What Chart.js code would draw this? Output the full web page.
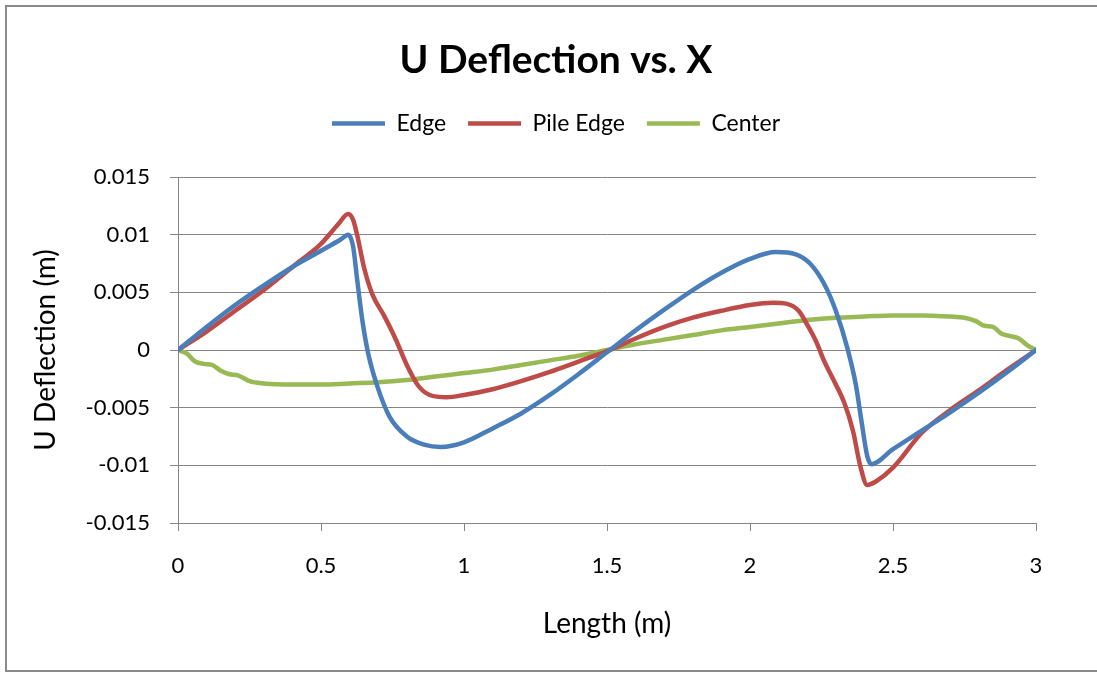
<!DOCTYPE html>
<html>
<head>
<meta charset="utf-8">
<title>U Deflection vs. X</title>
<script src="https://cdn.jsdelivr.net/npm/chart.js@4/dist/chart.umd.min.js"></script>
<style>
    html, body { margin: 0; padding: 0; background: #fff; }
    #wrap { position: absolute; left: 0; top: 0; width: 1097px; height: 673px; }
</style>
</head>
<body>
<div id="wrap"><canvas id="chart"></canvas></div>
<script>
(function () {
    'use strict';

    // Length along the member (m) and U deflection (m) for each line
    var edgeX = [0, 0.1, 0.2, 0.3, 0.4, 0.5, 0.57, 0.595, 0.612, 0.627, 0.645, 0.665, 0.695, 0.74, 0.8, 0.86, 0.92, 1.0, 1.1, 1.2, 1.3, 1.4, 1.5, 1.6, 1.7, 1.8, 1.9, 2.0, 2.09, 2.16, 2.21, 2.26, 2.3, 2.34, 2.37, 2.39, 2.41, 2.425, 2.5, 2.6, 2.7, 2.8, 2.9, 3.0];
    var edgeU = [0, 0.0020, 0.0039, 0.0056, 0.0072, 0.0086, 0.0096, 0.0100, 0.0090, 0.0060, 0.0025, -0.0003, -0.0030, -0.0058, -0.0075, -0.0082, -0.0084, -0.0080, -0.0068, -0.0055, -0.0039, -0.0021, -0.0002, 0.0017, 0.0035, 0.0052, 0.0067, 0.0079, 0.0085, 0.0083, 0.0075, 0.0057, 0.0034, 0.0002, -0.0030, -0.0062, -0.0092, -0.0099, -0.0086, -0.0070, -0.0054, -0.0037, -0.0019, 0];

    var pileX = [0, 0.1, 0.2, 0.3, 0.4, 0.5, 0.56, 0.595, 0.612, 0.628, 0.65, 0.68, 0.72, 0.76, 0.8, 0.84, 0.88, 0.94, 1.0, 1.1, 1.2, 1.3, 1.4, 1.5, 1.6, 1.7, 1.8, 1.9, 2.0, 2.08, 2.13, 2.17, 2.2, 2.23, 2.26, 2.29, 2.33, 2.36, 2.385, 2.41, 2.44, 2.5, 2.6, 2.7, 2.8, 2.9, 3.0];
    var pileU = [0, 0.0016, 0.0034, 0.0052, 0.0072, 0.0092, 0.0109, 0.0118, 0.0113, 0.0098, 0.0072, 0.0048, 0.0030, 0.0010, -0.0013, -0.0031, -0.0039, -0.0041, -0.0039, -0.0034, -0.0027, -0.0019, -0.0010, -0.0001, 0.0010, 0.0020, 0.0028, 0.0034, 0.0039, 0.0041, 0.0040, 0.0034, 0.0022, 0.0008, -0.0010, -0.0025, -0.0046, -0.0070, -0.0100, -0.0117, -0.0114, -0.0102, -0.0072, -0.0052, -0.0035, -0.0017, 0];

    var centerX = [0, 0.03, 0.06, 0.09, 0.12, 0.15, 0.18, 0.21, 0.25, 0.3, 0.4, 0.5, 0.6, 0.7, 0.8, 0.9, 1.0, 1.1, 1.2, 1.3, 1.4, 1.5, 1.6, 1.7, 1.8, 1.9, 2.0, 2.1, 2.2, 2.3, 2.4, 2.5, 2.6, 2.7, 2.75, 2.79, 2.82, 2.85, 2.88, 2.91, 2.94, 2.97, 3.0];
    var centerU = [0, -0.0003, -0.0010, -0.0012, -0.0013, -0.0018, -0.0021, -0.0022, -0.0027, -0.0029, -0.0030, -0.0030, -0.0029, -0.0028, -0.0026, -0.0023, -0.0020, -0.0017, -0.0013, -0.0009, -0.0005, 0, 0.0005, 0.0009, 0.0013, 0.0017, 0.0020, 0.0023, 0.0026, 0.0028, 0.0029, 0.0030, 0.0030, 0.0029, 0.0028, 0.0025, 0.0021, 0.0020, 0.0014, 0.0012, 0.0010, 0.0004, 0];

    var xTicks = [0, 0.5, 1, 1.5, 2, 2.5, 3];
    var xTickLabels = ['0', '0.5', '1', '1.5', '2', '2.5', '3'];
    var yTicks = [-0.015, -0.01, -0.005, 0, 0.005, 0.01, 0.015];
    var yTickLabels = ['-0.015', '-0.01', '-0.005', '0', '0.005', '0.01', '0.015'];

    var FONT = 'Lato, "Open Sans", sans-serif';
    var GRID = '#868686';

    function points(xs, ys) {
        return xs.map(function (x, i) { return { x: x, y: ys[i] }; });
    }

    function series(label, xs, ys, color) {
        return {
            label: label,
            data: points(xs, ys),
            borderColor: color,
            backgroundColor: color,
            borderWidth: 4.5,
            borderCapStyle: 'round',
            borderJoinStyle: 'round',
            pointRadius: 0,
            pointHoverRadius: 0,
            pointStyle: 'line',
            showLine: true,
            cubicInterpolationMode: 'monotone'
        };
    }

    function fixedTicks(values) {
        return function (scale) {
            scale.ticks = values.map(function (v) { return { value: v }; });
        };
    }

    // outer frame of the chart object
    var framePlugin = {
        id: 'frame',
        beforeDraw: function (chart) {
            var ctx = chart.ctx;
            ctx.save();
            ctx.fillStyle = '#fff';
            ctx.fillRect(0, 0, chart.width, chart.height);
            ctx.strokeStyle = '#8a8a8a';
            ctx.lineWidth = 2;
            ctx.beginPath();
            ctx.moveTo(chart.width + 2, 6);
            ctx.lineTo(6, 6);
            ctx.lineTo(6, 671);
            ctx.lineTo(chart.width + 2, 671);
            ctx.stroke();
            ctx.restore();
        }
    };

    new Chart(document.getElementById('chart'), {
        type: 'scatter',
        data: {
            datasets: [
                series('Edge', edgeX, edgeU, '#4a7ebb'),
                series('Pile Edge', pileX, pileU, '#be4b48'),
                series('Center', centerX, centerU, '#98b954')
            ]
        },
        plugins: [framePlugin],
        options: {
            responsive: true,
            maintainAspectRatio: false,
            animation: false,
            layout: { padding: { left: 15, right: 0, top: 0, bottom: 0 } },
            plugins: {
                title: {
                    display: true,
                    text: 'U Deflection vs. X',
                    color: '#000',
                    font: { family: FONT, size: 39, weight: 'bold' },
                    padding: { top: 37, bottom: 6 }
                },
                // empty box below the legend, keeps a gap above the plot
                subtitle: {
                    display: true,
                    text: '',
                    weight: 500,
                    font: { size: 10 },
                    padding: { top: 0, bottom: 20 }
                },
                legend: {
                    display: true,
                    labels: {
                        color: '#000',
                        font: { family: FONT, size: 23 },
                        usePointStyle: true,
                        pointStyleWidth: 53,
                        padding: 22
                    }
                },
                tooltip: { enabled: false }
            },
            scales: {
                x: {
                    type: 'linear',
                    min: 0,
                    max: 3,
                    afterBuildTicks: fixedTicks(xTicks),
                    afterFit: function (scale) {
                        scale.height = 150;
                        scale.paddingRight = 61;
                    },
                    ticks: {
                        color: '#000',
                        font: { family: FONT, size: 22 },
                        padding: 22,
                        maxRotation: 0,
                        callback: function (v) {
                            var i = xTicks.indexOf(v);
                            return i === -1 ? '' : xTickLabels[i];
                        }
                    },
                    grid: {
                        drawOnChartArea: false,
                        drawTicks: true,
                        tickLength: 8,
                        color: GRID
                    },
                    border: { display: true, color: GRID, width: 1 },
                    title: {
                        display: true,
                        text: 'Length (m)',
                        color: '#000',
                        font: { family: FONT, size: 28 },
                        padding: { top: 0, bottom: 32 }
                    }
                },
                y: {
                    type: 'linear',
                    min: -0.015,
                    max: 0.015,
                    afterBuildTicks: fixedTicks(yTicks),
                    afterFit: function (scale) {
                        scale.width = 163;
                        scale.paddingTop = 177;
                    },
                    ticks: {
                        color: '#000',
                        font: { family: FONT, size: 22 },
                        padding: 20,
                        callback: function (v) {
                            var i = yTicks.indexOf(v);
                            return i === -1 ? '' : yTickLabels[i];
                        }
                    },
                    grid: {
                        drawTicks: true,
                        tickLength: 8,
                        color: GRID
                    },
                    border: { display: true, color: GRID, width: 1 },
                    title: {
                        display: true,
                        text: 'U Deflection (m)',
                        color: '#000',
                        font: { family: FONT, size: 28 },
                        padding: { top: 14, bottom: 0 }
                    }
                }
            }
        }
    });
})();
</script>
</body>
</html>
